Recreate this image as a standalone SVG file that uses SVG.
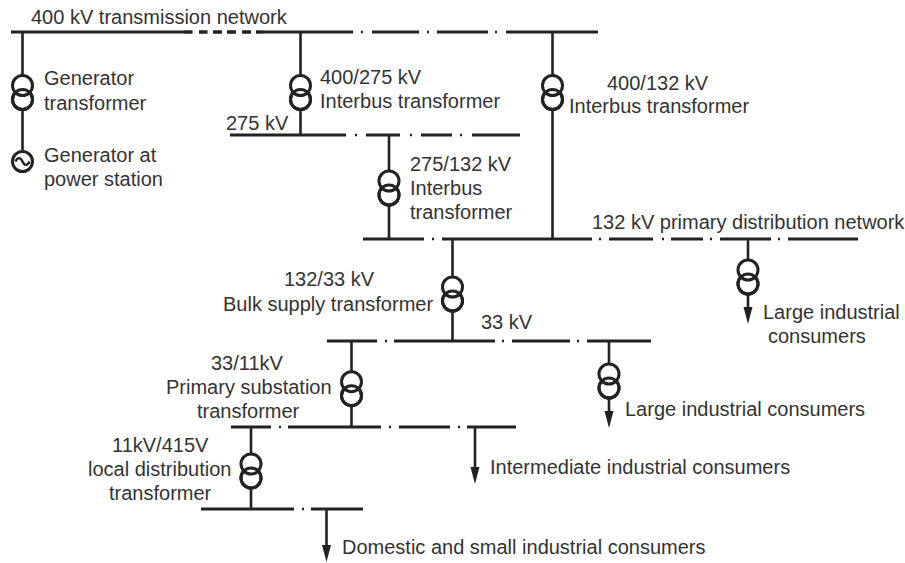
<svg xmlns="http://www.w3.org/2000/svg" width="905" height="563" viewBox="0 0 905 563">
<style>
text{font-family:"Liberation Sans",Arial,sans-serif;font-size:20px;fill:#333}
.l{fill:none;stroke:#222;stroke-width:2.6}
.b{fill:none;stroke:#222;stroke-width:2.8}
.d{fill:none;stroke:#222;stroke-width:2.4}
.h{fill:none;stroke:#222;stroke-width:3.6}
.c{fill:#fff;stroke:#222;stroke-width:3}
.n{fill:none;stroke:#222;stroke-width:3}
</style>
<defs>
<g id="tx"><circle class="c" cx="0" cy="14" r="10"/><circle class="c" cx="0" cy="0" r="10"/><circle class="n" cx="0" cy="14" r="10"/></g>
<path id="ah" d="M-4.500 -17L4.500 -17L0 0Z" fill="#222"/>
</defs>
<rect width="905" height="563" fill="#fff"/>
<g id="connectors">
<path class="l" d="M22.500 32V150M300.500 32V135M552.500 32V239M389 135V239M452.500 239V341M748 239V312M351.500 341V427M609 341V416M475 427V472M251 427V509M326.500 509V550"/>
</g>
<g id="bus-400">
<path class="b" d="M11 32H184M263 32H353M372 32H419M437 32H488M506 32H598"/>
<path class="h" d="M184 32H192.500M199 32H207.500M213 32H222M227 32H236M242 32H251M256 32H263"/>
<path class="d" d="M361 32H363M427 32H429M495 32H497"/>
</g>
<g id="bus-275">
<path class="b" d="M230 135H346M366 135H400M421 135H452M472 135H520"/>
<path class="d" d="M355 135H357M410 135H412M460 135H462"/>
</g>
<g id="bus-132">
<path class="b" d="M363 239H424M442 239H592M609 239H653M671 239H703M720 239H771M788 239H858"/>
<path class="d" d="M432 239H434M599 239H601M662 239H664M710 239H712M778 239H780"/>
</g>
<g id="bus-33">
<path class="b" d="M327 341H377M394 341H495M512 341H570M587 341H651"/>
<path class="d" d="M385 341H387M502 341H504M577 341H579"/>
</g>
<g id="bus-11">
<path class="b" d="M231 427H271M288 427H381M399 427H450M467 427H516"/>
<path class="d" d="M279 427H281M389 427H391M458 427H460"/>
</g>
<g id="bus-415">
<path class="b" d="M201 509H294M311 509H363"/>
<path class="d" d="M302 509H304"/>
</g>
<g id="generator-transformer"><use href="#tx" x="22.500" y="85.500"/><text x="44" y="85">Generator</text><text x="44" y="110">transformer</text></g>
<g id="generator"><circle cx="22.500" cy="161.500" r="10" class="c"/><path class="d" d="M15.500 161.500C17.500 157 20.500 157 22.500 161.500S27.500 166 29.500 161.500"/><text x="44" y="162">Generator at</text><text x="44" y="186">power station</text></g>
<g id="t-400-275"><use href="#tx" x="300.500" y="85.500"/><text x="320" y="83.500">400/275 kV</text><text x="320" y="108">Interbus transformer</text></g>
<g id="t-400-132"><use href="#tx" x="552.500" y="85.500"/><text x="607" y="90">400/132 kV</text><text x="569" y="112.500">Interbus transformer</text></g>
<g id="t-275-132"><use href="#tx" x="389" y="181"/><text x="410" y="171">275/132 kV</text><text x="410" y="195">Interbus</text><text x="410" y="219">transformer</text></g>
<g id="t-132-33"><use href="#tx" x="452.500" y="287"/><text x="284" y="286">132/33 kV</text><text x="223" y="310.500">Bulk supply transformer</text></g>
<g id="large-132"><use href="#tx" x="748" y="270"/><use href="#ah" x="748" y="324"/><text x="763" y="318.500">Large industrial</text><text x="768" y="342.500">consumers</text></g>
<g id="t-33-11"><use href="#tx" x="351.500" y="381.700"/><text x="211" y="369.500">33/11kV</text><text x="166" y="394">Primary substation</text><text x="197" y="418">transformer</text></g>
<g id="large-33"><use href="#tx" x="609" y="374"/><use href="#ah" x="609" y="428"/><text x="625" y="416">Large industrial consumers</text></g>
<g id="intermediate"><use href="#ah" x="475" y="484"/><text x="490" y="473.500">Intermediate industrial consumers</text></g>
<g id="t-11-415"><use href="#tx" x="251" y="464"/><text x="112" y="451.500">11kV/415V</text><text x="88" y="476">local distribution</text><text x="109" y="500">transformer</text></g>
<g id="domestic"><use href="#ah" x="326.500" y="562"/><text x="342" y="553.500">Domestic and small industrial consumers</text></g>
<g id="labels"><text x="31" y="23.500">400 kV transmission network</text><text x="226" y="130">275 kV</text><text x="592" y="229">132 kV primary distribution network</text><text x="481" y="328.500">33 kV</text></g>
</svg>
